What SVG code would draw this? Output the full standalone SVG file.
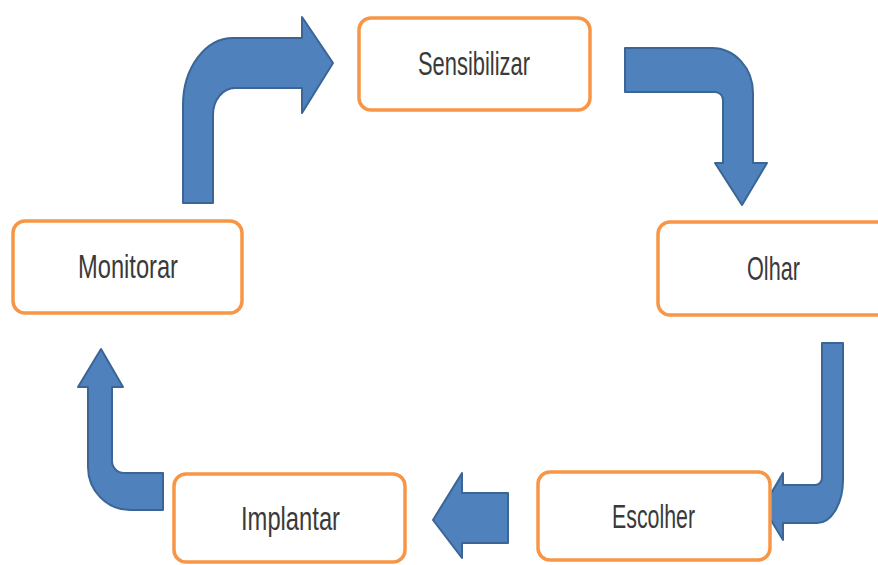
<svg xmlns="http://www.w3.org/2000/svg" width="878" height="565" viewBox="0 0 878 565">
<style>
.box{fill:#ffffff;stroke:#f79646;stroke-width:3.5}
.lbl{font-family:"Liberation Sans",Arial,sans-serif;font-size:33px;fill:#3a3a3a;text-anchor:start}
.arr{fill:#4f81bd;stroke:#3b6595;stroke-width:2;stroke-linejoin:round}
</style>
<rect width="878" height="565" fill="#ffffff"/>
<g id="connectors">
<path class="arr" d="M183,203 V105 A50,67 0 0 1 233,38 H302 V17 L333,63 L302,113 V88 H235 A22,27 0 0 0 213,115 V203 Z"/>
<path class="arr" d="M625,48 H712 A41,45 0 0 1 753,93 V163 H767 L742,205 L715,163 H723 V100 A8,8 0 0 0 715,92 H625 Z"/>
<path class="arr" d="M822,343 H843 V480 A26,43 0 0 1 817,523 H783 V540 L763,507 L783,473 V485 H815 A7,7 0 0 0 822,478 Z"/>
<path class="arr" d="M508,493 V543 H462 V558 L433,520 L462,473 V493 Z"/>
<path class="arr" d="M101,349 L123,387 H112 V461 A12,12 0 0 0 124,473 H163 V510 H130 A42,43 0 0 1 88,467 V387 H78 Z"/>
</g>
<g id="sensibilizar">
<rect class="box" x="359" y="18" width="231" height="92" rx="12"/>
<text class="lbl" x="418" y="75" textLength="112" lengthAdjust="spacingAndGlyphs">Sensibilizar</text>
</g>
<g id="olhar">
<rect class="box" x="658" y="222" width="236" height="93" rx="12"/>
<text class="lbl" x="747" y="280" textLength="53" lengthAdjust="spacingAndGlyphs">Olhar</text>
</g>
<g id="escolher">
<rect class="box" x="538" y="472" width="232" height="88" rx="12"/>
<text class="lbl" x="612" y="528" textLength="83" lengthAdjust="spacingAndGlyphs">Escolher</text>
</g>
<g id="implantar">
<rect class="box" x="174" y="474" width="231" height="88" rx="12"/>
<text class="lbl" x="241" y="530" textLength="99" lengthAdjust="spacingAndGlyphs">Implantar</text>
</g>
<g id="monitorar">
<rect class="box" x="13" y="221" width="229" height="92" rx="12"/>
<text class="lbl" x="78" y="278" textLength="100" lengthAdjust="spacingAndGlyphs">Monitorar</text>
</g>
</svg>
